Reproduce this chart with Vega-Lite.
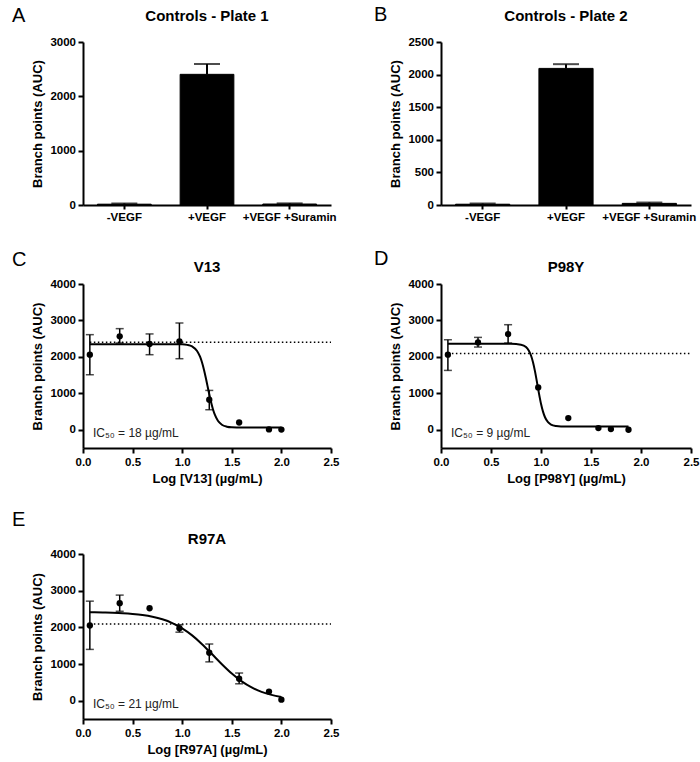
{
  "$schema": "https://vega.github.io/schema/vega-lite/v6.json",
  "padding": {"left": 11, "top": 5, "right": 1, "bottom": 2},
  "background": "white",
  "datasets": {
    "bars": [
      {"panel": "A", "cond": "-VEGF", "y": 15},
      {"panel": "A", "cond": "+VEGF", "y": 2405},
      {"panel": "A", "cond": "+VEGF +Suramin", "y": 18},
      {"panel": "B", "cond": "-VEGF", "y": 12},
      {"panel": "B", "cond": "+VEGF", "y": 2095},
      {"panel": "B", "cond": "+VEGF +Suramin", "y": 25}
    ],
    "barerr": [
      {"panel": "A", "cond": "-VEGF", "y": 15, "y2": 28},
      {"panel": "A", "cond": "+VEGF", "y": 2405, "y2": 2595},
      {"panel": "A", "cond": "+VEGF +Suramin", "y": 18, "y2": 30},
      {"panel": "B", "cond": "-VEGF", "y": 12, "y2": 22},
      {"panel": "B", "cond": "+VEGF", "y": 2095, "y2": 2160},
      {"panel": "B", "cond": "+VEGF +Suramin", "y": 25, "y2": 38}
    ],
    "pts": [
      {"panel": "C", "x": 0.069, "y": 2060}, {"panel": "C", "x": 0.37, "y": 2563},
      {"panel": "C", "x": 0.671, "y": 2354}, {"panel": "C", "x": 0.972, "y": 2426},
      {"panel": "C", "x": 1.273, "y": 824}, {"panel": "C", "x": 1.574, "y": 200},
      {"panel": "C", "x": 1.875, "y": 10}, {"panel": "C", "x": 2.0, "y": 5},
      {"panel": "D", "x": 0.069, "y": 2060}, {"panel": "D", "x": 0.37, "y": 2398},
      {"panel": "D", "x": 0.671, "y": 2627}, {"panel": "D", "x": 0.972, "y": 1162},
      {"panel": "D", "x": 1.273, "y": 320}, {"panel": "D", "x": 1.574, "y": 46},
      {"panel": "D", "x": 1.699, "y": 18}, {"panel": "D", "x": 1.875, "y": 0},
      {"panel": "E", "x": 0.069, "y": 2051}, {"panel": "E", "x": 0.37, "y": 2660},
      {"panel": "E", "x": 0.671, "y": 2520}, {"panel": "E", "x": 0.972, "y": 1978},
      {"panel": "E", "x": 1.273, "y": 1306}, {"panel": "E", "x": 1.574, "y": 598},
      {"panel": "E", "x": 1.875, "y": 248}, {"panel": "E", "x": 2.0, "y": 28}
    ],
    "errs": [
      {"panel": "C", "x": 0.069, "y": 1510, "y2": 2610},
      {"panel": "C", "x": 0.37, "y": 2380, "y2": 2775},
      {"panel": "C", "x": 0.671, "y": 2060, "y2": 2630},
      {"panel": "C", "x": 0.972, "y": 1950, "y2": 2930},
      {"panel": "C", "x": 1.273, "y": 550, "y2": 1080},
      {"panel": "D", "x": 0.069, "y": 1629, "y2": 2471},
      {"panel": "D", "x": 0.37, "y": 2270, "y2": 2535},
      {"panel": "D", "x": 0.671, "y": 2380, "y2": 2883},
      {"panel": "E", "x": 0.069, "y": 1398, "y2": 2714},
      {"panel": "E", "x": 0.37, "y": 2438, "y2": 2879},
      {"panel": "E", "x": 0.972, "y": 1868, "y2": 2070},
      {"panel": "E", "x": 1.273, "y": 1058, "y2": 1545},
      {"panel": "E", "x": 1.574, "y": 460, "y2": 754}
    ],
    "caps": [
      {"panel": "C", "x": 0.069, "y": 1510}, {"panel": "C", "x": 0.069, "y": 2610},
      {"panel": "C", "x": 0.37, "y": 2380}, {"panel": "C", "x": 0.37, "y": 2775},
      {"panel": "C", "x": 0.671, "y": 2060}, {"panel": "C", "x": 0.671, "y": 2630},
      {"panel": "C", "x": 0.972, "y": 1950}, {"panel": "C", "x": 0.972, "y": 2930},
      {"panel": "C", "x": 1.273, "y": 550}, {"panel": "C", "x": 1.273, "y": 1080},
      {"panel": "D", "x": 0.069, "y": 1629}, {"panel": "D", "x": 0.069, "y": 2471},
      {"panel": "D", "x": 0.37, "y": 2270}, {"panel": "D", "x": 0.37, "y": 2535},
      {"panel": "D", "x": 0.671, "y": 2380}, {"panel": "D", "x": 0.671, "y": 2883},
      {"panel": "E", "x": 0.069, "y": 1398}, {"panel": "E", "x": 0.069, "y": 2714},
      {"panel": "E", "x": 0.37, "y": 2438}, {"panel": "E", "x": 0.37, "y": 2879},
      {"panel": "E", "x": 0.972, "y": 1868}, {"panel": "E", "x": 0.972, "y": 2070},
      {"panel": "E", "x": 1.273, "y": 1058}, {"panel": "E", "x": 1.273, "y": 1545},
      {"panel": "E", "x": 1.574, "y": 460}, {"panel": "E", "x": 1.574, "y": 754}
    ],
    "curves": [
      {"panel": "C", "x": 0.069, "y": 2350}, {"panel": "C", "x": 0.5, "y": 2350},
      {"panel": "C", "x": 0.9, "y": 2348}, {"panel": "C", "x": 1.0, "y": 2344},
      {"panel": "C", "x": 1.05, "y": 2330}, {"panel": "C", "x": 1.1, "y": 2287},
      {"panel": "C", "x": 1.15, "y": 2163}, {"panel": "C", "x": 1.18, "y": 2004},
      {"panel": "C", "x": 1.2, "y": 1846}, {"panel": "C", "x": 1.22, "y": 1643},
      {"panel": "C", "x": 1.24, "y": 1401}, {"panel": "C", "x": 1.255, "y": 1205},
      {"panel": "C", "x": 1.27, "y": 1009}, {"panel": "C", "x": 1.29, "y": 767},
      {"panel": "C", "x": 1.31, "y": 564}, {"panel": "C", "x": 1.33, "y": 406},
      {"panel": "C", "x": 1.36, "y": 247}, {"panel": "C", "x": 1.4, "y": 138},
      {"panel": "C", "x": 1.45, "y": 85}, {"panel": "C", "x": 1.5, "y": 68},
      {"panel": "C", "x": 1.6, "y": 61}, {"panel": "C", "x": 2.0, "y": 60},
      {"panel": "D", "x": 0.069, "y": 2360}, {"panel": "D", "x": 0.5, "y": 2360},
      {"panel": "D", "x": 0.7, "y": 2358}, {"panel": "D", "x": 0.8, "y": 2336},
      {"panel": "D", "x": 0.85, "y": 2269}, {"panel": "D", "x": 0.88, "y": 2162},
      {"panel": "D", "x": 0.9, "y": 2037}, {"panel": "D", "x": 0.92, "y": 1852},
      {"panel": "D", "x": 0.94, "y": 1602}, {"panel": "D", "x": 0.965, "y": 1225},
      {"panel": "D", "x": 0.98, "y": 993}, {"panel": "D", "x": 1.0, "y": 715},
      {"panel": "D", "x": 1.02, "y": 498}, {"panel": "D", "x": 1.04, "y": 344},
      {"panel": "D", "x": 1.07, "y": 208}, {"panel": "D", "x": 1.1, "y": 143},
      {"panel": "D", "x": 1.15, "y": 104}, {"panel": "D", "x": 1.2, "y": 93},
      {"panel": "D", "x": 1.875, "y": 90},
      {"panel": "E", "x": 0.069, "y": 2412}, {"panel": "E", "x": 0.2, "y": 2406},
      {"panel": "E", "x": 0.3, "y": 2398}, {"panel": "E", "x": 0.4, "y": 2386},
      {"panel": "E", "x": 0.5, "y": 2366}, {"panel": "E", "x": 0.6, "y": 2336},
      {"panel": "E", "x": 0.7, "y": 2289}, {"panel": "E", "x": 0.8, "y": 2219},
      {"panel": "E", "x": 0.9, "y": 2117}, {"panel": "E", "x": 1.0, "y": 1972},
      {"panel": "E", "x": 1.1, "y": 1780}, {"panel": "E", "x": 1.2, "y": 1541},
      {"panel": "E", "x": 1.3, "y": 1271}, {"panel": "E", "x": 1.4, "y": 995},
      {"panel": "E", "x": 1.5, "y": 740}, {"panel": "E", "x": 1.6, "y": 526},
      {"panel": "E", "x": 1.7, "y": 361}, {"panel": "E", "x": 1.8, "y": 241},
      {"panel": "E", "x": 1.9, "y": 158}, {"panel": "E", "x": 2.0, "y": 102}
    ],
    "refs": [
      {"panel": "C", "x": 0.069, "x2": 2.5, "y": 2405},
      {"panel": "D", "x": 0.069, "x2": 2.5, "y": 2090},
      {"panel": "E", "x": 0.069, "x2": 2.5, "y": 2090}
    ],
    "ic50": [
      {"panel": "C", "x": 0.1, "y": -190, "label": "IC₅₀ = 18 µg/mL"},
      {"panel": "D", "x": 0.1, "y": -190, "label": "IC₅₀ = 9 µg/mL"},
      {"panel": "E", "x": 0.1, "y": -190, "label": "IC₅₀ = 21 µg/mL"}
    ]
  },
  "vconcat": [
    {
      "columns": 2,
      "spacing": {"row": 25, "column": 34},
      "concat": [
        {
          "title": {"text": "A", "orient": "top", "anchor": "start", "frame": "bounds", "fontSize": 20, "fontWeight": "normal", "dx": -20, "offset": -17},
          "vconcat": [
            {
              "width": 248, "height": 163,
              "title": {"text": "Controls - Plate 1", "offset": 12},
              "encoding": {
                "x": {"field": "cond", "type": "nominal", "sort": ["-VEGF", "+VEGF", "+VEGF +Suramin"], "scale": {"paddingInner": 0.35, "paddingOuter": 0.175}, "axis": {"title": null, "labelAngle": 0, "tickSize": 4, "labelPadding": 2}},
                "y": {"field": "y", "type": "quantitative", "scale": {"domain": [0, 3000], "nice": false}, "axis": {"values": [0, 1000, 2000, 3000], "format": "d", "title": "Branch points (AUC)"}}
              },
              "layer": [
                {"data": {"name": "bars"}, "transform": [{"filter": "datum.panel === 'A'"}], "mark": {"type": "bar", "color": "black", "stroke": "black", "strokeWidth": 1}},
                {"data": {"name": "barerr"}, "transform": [{"filter": "datum.panel === 'A'"}], "mark": {"type": "rule", "color": "black", "strokeWidth": 2}, "encoding": {"y2": {"field": "y2"}}},
                {"data": {"name": "barerr"}, "transform": [{"filter": "datum.panel === 'A'"}], "mark": {"type": "tick", "color": "black", "thickness": 2, "size": 26}, "encoding": {"y": {"field": "y2", "type": "quantitative"}}}
              ]
            }
          ]
        },
        {
          "title": {"text": "B", "orient": "top", "anchor": "start", "frame": "bounds", "fontSize": 20, "fontWeight": "normal", "dx": -16, "offset": -16},
          "vconcat": [
            {
              "width": 250, "height": 163,
              "title": {"text": "Controls - Plate 2", "offset": 12},
              "encoding": {
                "x": {"field": "cond", "type": "nominal", "sort": ["-VEGF", "+VEGF", "+VEGF +Suramin"], "scale": {"paddingInner": 0.35, "paddingOuter": 0.175}, "axis": {"title": null, "labelAngle": 0, "tickSize": 4, "labelPadding": 2}},
                "y": {"field": "y", "type": "quantitative", "scale": {"domain": [0, 2500], "nice": false}, "axis": {"values": [0, 500, 1000, 1500, 2000, 2500], "format": "d", "title": "Branch points (AUC)"}}
              },
              "layer": [
                {"data": {"name": "bars"}, "transform": [{"filter": "datum.panel === 'B'"}], "mark": {"type": "bar", "color": "black", "stroke": "black", "strokeWidth": 1}},
                {"data": {"name": "barerr"}, "transform": [{"filter": "datum.panel === 'B'"}], "mark": {"type": "rule", "color": "black", "strokeWidth": 2}, "encoding": {"y2": {"field": "y2"}}},
                {"data": {"name": "barerr"}, "transform": [{"filter": "datum.panel === 'B'"}], "mark": {"type": "tick", "color": "black", "thickness": 2, "size": 26}, "encoding": {"y": {"field": "y2", "type": "quantitative"}}}
              ]
            }
          ]
        },
        {
          "title": {"text": "C", "orient": "top", "anchor": "start", "frame": "bounds", "fontSize": 20, "fontWeight": "normal", "dx": -20, "offset": -9.75},
          "vconcat": [
            {
              "width": 248, "height": 164,
              "title": {"text": "V13", "offset": 3},
              "encoding": {
                "x": {"field": "x", "type": "quantitative", "scale": {"domain": [0, 2.5], "nice": false}, "axis": {"values": [0, 0.5, 1, 1.5, 2, 2.5], "format": ".1f", "title": "Log [V13] (µg/mL)", "labelPadding": 3, "titlePadding": 5}},
                "y": {"field": "y", "type": "quantitative", "scale": {"domain": [-500, 4000], "nice": false}, "axis": {"values": [0, 1000, 2000, 3000, 4000], "format": "d", "title": "Branch points (AUC)"}}
              },
              "layer": [
                {"data": {"name": "refs"}, "transform": [{"filter": "datum.panel === 'C'"}], "mark": {"type": "rule", "color": "black", "strokeWidth": 1.5, "strokeDash": [1.5, 2.5]}, "encoding": {"x2": {"field": "x2"}}},
                {"data": {"name": "curves"}, "transform": [{"filter": "datum.panel === 'C'"}], "mark": {"type": "line", "color": "black", "strokeWidth": 2, "interpolate": "monotone"}},
                {"data": {"name": "errs"}, "transform": [{"filter": "datum.panel === 'C'"}], "mark": {"type": "rule", "color": "black", "strokeWidth": 1.5}, "encoding": {"y2": {"field": "y2"}}},
                {"data": {"name": "caps"}, "transform": [{"filter": "datum.panel === 'C'"}], "mark": {"type": "tick", "color": "black", "thickness": 1.5, "size": 8, "orient": "horizontal"}},
                {"data": {"name": "pts"}, "transform": [{"filter": "datum.panel === 'C'"}], "mark": {"type": "circle", "color": "black", "opacity": 1, "size": 40}},
                {"data": {"name": "ic50"}, "transform": [{"filter": "datum.panel === 'C'"}], "mark": {"type": "text", "align": "left", "baseline": "alphabetic", "fontSize": 12, "color": "#222"}, "encoding": {"text": {"field": "label"}}}
              ]
            }
          ]
        },
        {
          "title": {"text": "D", "orient": "top", "anchor": "start", "frame": "bounds", "fontSize": 20, "fontWeight": "normal", "dx": -16, "offset": -8.75},
          "vconcat": [
            {
              "width": 250, "height": 164,
              "title": {"text": "P98Y", "offset": 3},
              "encoding": {
                "x": {"field": "x", "type": "quantitative", "scale": {"domain": [0, 2.5], "nice": false}, "axis": {"values": [0, 0.5, 1, 1.5, 2, 2.5], "format": ".1f", "title": "Log [P98Y] (µg/mL)", "labelPadding": 3, "titlePadding": 5}},
                "y": {"field": "y", "type": "quantitative", "scale": {"domain": [-500, 4000], "nice": false}, "axis": {"values": [0, 1000, 2000, 3000, 4000], "format": "d", "title": "Branch points (AUC)"}}
              },
              "layer": [
                {"data": {"name": "refs"}, "transform": [{"filter": "datum.panel === 'D'"}], "mark": {"type": "rule", "color": "black", "strokeWidth": 1.5, "strokeDash": [1.5, 2.5]}, "encoding": {"x2": {"field": "x2"}}},
                {"data": {"name": "curves"}, "transform": [{"filter": "datum.panel === 'D'"}], "mark": {"type": "line", "color": "black", "strokeWidth": 2, "interpolate": "monotone"}},
                {"data": {"name": "errs"}, "transform": [{"filter": "datum.panel === 'D'"}], "mark": {"type": "rule", "color": "black", "strokeWidth": 1.5}, "encoding": {"y2": {"field": "y2"}}},
                {"data": {"name": "caps"}, "transform": [{"filter": "datum.panel === 'D'"}], "mark": {"type": "tick", "color": "black", "thickness": 1.5, "size": 8, "orient": "horizontal"}},
                {"data": {"name": "pts"}, "transform": [{"filter": "datum.panel === 'D'"}], "mark": {"type": "circle", "color": "black", "opacity": 1, "size": 40}},
                {"data": {"name": "ic50"}, "transform": [{"filter": "datum.panel === 'D'"}], "mark": {"type": "text", "align": "left", "baseline": "alphabetic", "fontSize": 12, "color": "#222"}, "encoding": {"text": {"field": "label"}}}
              ]
            }
          ]
        }
      ]
    },
    {
      "title": {"text": "E", "orient": "top", "anchor": "start", "frame": "bounds", "fontSize": 20, "fontWeight": "normal", "dx": -20, "offset": 1.5},
      "vconcat": [
        {
          "width": 248, "height": 165,
          "title": {"text": "R97A", "offset": 1.5},
          "encoding": {
            "x": {"field": "x", "type": "quantitative", "scale": {"domain": [0, 2.5], "nice": false}, "axis": {"values": [0, 0.5, 1, 1.5, 2, 2.5], "format": ".1f", "title": "Log [R97A] (µg/mL)", "labelPadding": 3, "titlePadding": 5}},
            "y": {"field": "y", "type": "quantitative", "scale": {"domain": [-500, 4000], "nice": false}, "axis": {"values": [0, 1000, 2000, 3000, 4000], "format": "d", "title": "Branch points (AUC)"}}
          },
          "layer": [
            {"data": {"name": "refs"}, "transform": [{"filter": "datum.panel === 'E'"}], "mark": {"type": "rule", "color": "black", "strokeWidth": 1.5, "strokeDash": [1.5, 2.5]}, "encoding": {"x2": {"field": "x2"}}},
            {"data": {"name": "curves"}, "transform": [{"filter": "datum.panel === 'E'"}], "mark": {"type": "line", "color": "black", "strokeWidth": 2, "interpolate": "monotone"}},
            {"data": {"name": "errs"}, "transform": [{"filter": "datum.panel === 'E'"}], "mark": {"type": "rule", "color": "black", "strokeWidth": 1.5}, "encoding": {"y2": {"field": "y2"}}},
            {"data": {"name": "caps"}, "transform": [{"filter": "datum.panel === 'E'"}], "mark": {"type": "tick", "color": "black", "thickness": 1.5, "size": 8, "orient": "horizontal"}},
            {"data": {"name": "pts"}, "transform": [{"filter": "datum.panel === 'E'"}], "mark": {"type": "circle", "color": "black", "opacity": 1, "size": 40}},
            {"data": {"name": "ic50"}, "transform": [{"filter": "datum.panel === 'E'"}], "mark": {"type": "text", "align": "left", "baseline": "alphabetic", "fontSize": 12, "color": "#222"}, "encoding": {"text": {"field": "label"}}}
          ]
        }
      ]
    }
  ],
  "spacing": 24,
  "config": {
    "font": "Liberation Sans",
    "view": {"stroke": null},
    "axis": {
      "domainColor": "black", "domainWidth": 2, "tickColor": "black", "tickWidth": 2, "tickSize": 5,
      "labelFont": "Liberation Sans", "labelFontSize": 11.5, "labelFontWeight": "bold", "labelColor": "black", "labelPadding": 2.5,
      "labelFlush": false, "labelOverlap": false,
      "titleFont": "Liberation Sans", "titleFontSize": 13, "titleFontWeight": "bold", "titleColor": "black", "titlePadding": 5,
      "grid": false
    },
    "title": {"font": "Liberation Sans", "fontSize": 15, "fontWeight": "bold", "color": "black", "anchor": "middle"}
  }
}
